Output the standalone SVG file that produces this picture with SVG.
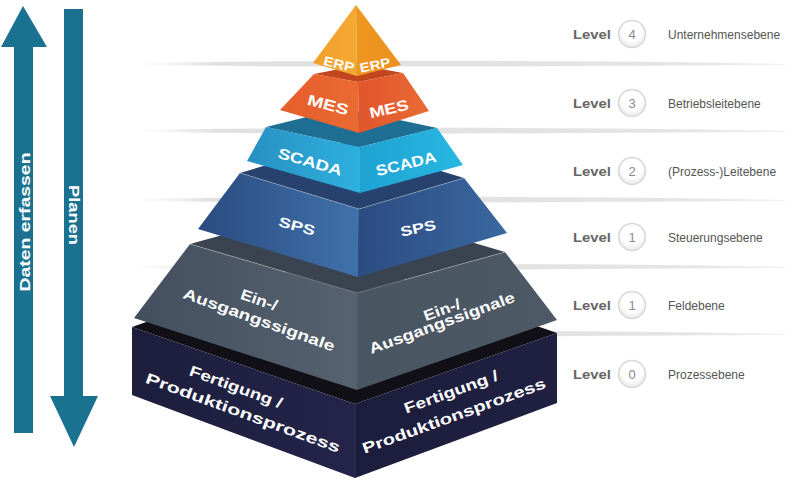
<svg xmlns="http://www.w3.org/2000/svg" width="800" height="481" viewBox="0 0 800 481">
<defs>
<style>
.lbl{font-family:"Liberation Sans",Arial,sans-serif;font-weight:bold;fill:#ffffff;text-anchor:middle}
.lv{font-family:"Liberation Sans",Arial,sans-serif;font-weight:bold;font-size:12.5px;fill:#666666}
.num{font-family:"Liberation Sans",Arial,sans-serif;font-size:13px;fill:#8a8a8a;text-anchor:middle}
.desc{font-family:"Liberation Sans",Arial,sans-serif;font-size:12px;fill:#555555}
.ring{fill:url(#ringG);stroke:#d8d8d8;stroke-width:1.5}
.band{fill:url(#bandG)}
.hl{fill:none;stroke:#ffffff;stroke-opacity:0.35;stroke-width:0.8}
.arrow{fill:#1b7290}
.atxt{font-family:"Liberation Sans",Arial,sans-serif;font-weight:bold;font-size:15px;fill:#ffffff;text-anchor:middle}
</style>
<linearGradient id="bandG" x1="0" y1="0" x2="1" y2="0">
<stop offset="0" stop-color="#e6e6e6" stop-opacity="0"/>
<stop offset="0.12" stop-color="#e0e0e0"/>
<stop offset="0.85" stop-color="#e4e4e4"/>
<stop offset="1" stop-color="#f2f2f2"/>
</linearGradient>
<radialGradient id="ringG" cx="0.5" cy="0.4" r="0.6">
<stop offset="0.6" stop-color="#ffffff"/>
<stop offset="1" stop-color="#e8e8e8"/>
</radialGradient>
<linearGradient id="erpL" x1="0" y1="0" x2="1" y2="0"><stop offset="0" stop-color="#f0a02c"/><stop offset="1" stop-color="#f5a935"/></linearGradient>
<linearGradient id="erpR" x1="0" y1="0" x2="1" y2="0"><stop offset="0" stop-color="#ee971f"/><stop offset="1" stop-color="#ec9020"/></linearGradient>
<linearGradient id="mesL" x1="0" y1="0" x2="1" y2="0"><stop offset="0" stop-color="#e65d2b"/><stop offset="1" stop-color="#ea6a33"/></linearGradient>
<linearGradient id="mesR" x1="0" y1="0" x2="1" y2="0"><stop offset="0" stop-color="#e1552a"/><stop offset="1" stop-color="#e96b36"/></linearGradient>
<linearGradient id="scL" x1="0" y1="0" x2="1" y2="0"><stop offset="0" stop-color="#2890c2"/><stop offset="1" stop-color="#2db0de"/></linearGradient>
<linearGradient id="scR" x1="0" y1="0" x2="1" y2="0"><stop offset="0" stop-color="#1ea3d3"/><stop offset="1" stop-color="#28b7e2"/></linearGradient>
<linearGradient id="spL" x1="0" y1="0" x2="1" y2="0"><stop offset="0" stop-color="#2a4b80"/><stop offset="1" stop-color="#4072aa"/></linearGradient>
<linearGradient id="spR" x1="0" y1="0" x2="1" y2="0"><stop offset="0" stop-color="#2b4c82"/><stop offset="1" stop-color="#3a68a0"/></linearGradient>
<linearGradient id="grL" x1="0" y1="0" x2="1" y2="0"><stop offset="0" stop-color="#434f5e"/><stop offset="1" stop-color="#56626f"/></linearGradient>
<linearGradient id="grR" x1="0" y1="0" x2="1" y2="0"><stop offset="0" stop-color="#4a5562"/><stop offset="1" stop-color="#4e5966"/></linearGradient>
<linearGradient id="nvL" x1="0" y1="0" x2="1" y2="0"><stop offset="0" stop-color="#1d1d3c"/><stop offset="1" stop-color="#24244a"/></linearGradient>
<linearGradient id="nvR" x1="0" y1="0" x2="1" y2="0"><stop offset="0" stop-color="#1c1c3c"/><stop offset="1" stop-color="#202042"/></linearGradient>
</defs>
<rect width="800" height="481" fill="#ffffff"/>

<g id="bands">
<path class="band" d="M140,63 C330,60 600,60 785,64 L785,65 C600,66 330,68 140,65 Z"/>
<path class="band" d="M138,130 C330,127 600,127 785,131 L785,132 C600,133 330,135 138,132 Z"/>
<path class="band" d="M136,199 C330,196 600,196 785,200 L785,201 C600,202 330,204 136,201 Z"/>
<path class="band" d="M134,266 C330,263 600,263 785,267 L785,268 C600,269 330,271 134,268 Z"/>
<path class="band" d="M132,333 C330,330 600,330 785,334 L785,335 C600,336 330,338 132,335 Z"/>
</g>

<g id="arrows">
<path class="arrow" d="M23,6 L47,47 L33,47 L33,433 L14,433 L14,47 L1,47 Z"/>
<path class="arrow" d="M64,9 L83,9 L83,396 L98,396 L74,447 L50,396 L64,396 Z"/>
<text class="atxt" transform="translate(24,222) rotate(-90)" y="5.5" textLength="139" lengthAdjust="spacingAndGlyphs">Daten erfassen</text>
<text class="atxt" transform="translate(74,215) rotate(90)" y="5.5" textLength="60" lengthAdjust="spacingAndGlyphs">Planen</text>
</g>

<g id="layer-fertigung">
<polygon points="132,327 355,404 557,333 334,256" fill="#101016"/>
<polygon points="132,327 355,404 355,478 132,395" fill="url(#nvL)"/>
<polygon points="355,404 557,333 557,403 355,478" fill="url(#nvR)"/>
<line x1="355" y1="404" x2="355" y2="478" stroke="#3a3a60" stroke-width="0.8"/>
<text class="lbl" transform="translate(236,387) rotate(20)" y="5" font-size="15" textLength="98" lengthAdjust="spacingAndGlyphs">Fertigung /</text>
<text class="lbl" transform="translate(243,413) rotate(20)" y="5" font-size="15" textLength="206" lengthAdjust="spacingAndGlyphs">Produktionsprozess</text>
<text class="lbl" transform="translate(451,392) rotate(-20)" y="5" font-size="15" textLength="99" lengthAdjust="spacingAndGlyphs">Fertigung /</text>
<text class="lbl" transform="translate(454,416) rotate(-20)" y="5" font-size="15" textLength="194" lengthAdjust="spacingAndGlyphs">Produktionsprozess</text>
</g>

<g id="layer-signale">
<polygon points="190,244 357,293 505,252 338,203" fill="#3a4450"/>
<polygon points="190,244 357,293 357,390 134,318" fill="url(#grL)"/>
<polygon points="357,293 505,252 557,320 357,390" fill="url(#grR)"/>
<polyline class="hl" points="190,244 357,293 505,252"/>
<text class="lbl" transform="translate(259,300) rotate(19)" y="5" font-size="15" textLength="38" lengthAdjust="spacingAndGlyphs">Ein-/</text>
<text class="lbl" transform="translate(259,320) rotate(19.6)" y="5" font-size="15" textLength="160" lengthAdjust="spacingAndGlyphs">Ausgangssignale</text>
<text class="lbl" transform="translate(442,310) rotate(-20)" y="5" font-size="15" textLength="38" lengthAdjust="spacingAndGlyphs">Ein-/</text>
<text class="lbl" transform="translate(442,323) rotate(-20)" y="5" font-size="15" textLength="154" lengthAdjust="spacingAndGlyphs">Ausgangssignale</text>
</g>

<g id="layer-sps">
<polygon points="240,173 359,209 464,178 345,142" fill="#27426e"/>
<polygon points="240,173 359,209 358,277 198,229" fill="url(#spL)"/>
<polygon points="359,209 464,178 507,233 358,277" fill="url(#spR)"/>
<polyline class="hl" points="240,173 359,209 464,178"/>
<text class="lbl" transform="translate(297,226) rotate(15)" y="5" font-size="14" textLength="37" lengthAdjust="spacingAndGlyphs">SPS</text>
<text class="lbl" transform="translate(418,228) rotate(-12)" y="5" font-size="14" textLength="36" lengthAdjust="spacingAndGlyphs">SPS</text>
</g>

<g id="layer-scada">
<polygon points="266,127 360,147 437,128 343,108" fill="#1f6f94"/>
<polygon points="266,127 360,147 360,193 247,161" fill="url(#scL)"/>
<polygon points="360,147 437,128 463,165 360,193" fill="url(#scR)"/>
<text class="lbl" transform="translate(310,162) rotate(16)" y="5" font-size="15" textLength="66" lengthAdjust="spacingAndGlyphs">SCADA</text>
<text class="lbl" transform="translate(406,164) rotate(-14)" y="5" font-size="15" textLength="62" lengthAdjust="spacingAndGlyphs">SCADA</text>
</g>

<g id="layer-mes">
<polygon points="314,74 358,82 403,73 360,65" fill="#c2471f"/>
<polygon points="314,74 358,82 359,133 280,110" fill="url(#mesL)"/>
<polygon points="358,82 403,73 429,111 359,133" fill="url(#mesR)"/>
<text class="lbl" transform="translate(328,105) rotate(15)" y="5" font-size="15" textLength="42" lengthAdjust="spacingAndGlyphs">MES</text>
<text class="lbl" transform="translate(389,109) rotate(-13)" y="5" font-size="15" textLength="40" lengthAdjust="spacingAndGlyphs">MES</text>
</g>

<g id="layer-erp">
<polygon points="356,5 357,76 313,63" fill="url(#erpL)"/>
<polygon points="356,5 401,65 357,76" fill="url(#erpR)"/>
<text class="lbl" transform="translate(339,64) rotate(14)" y="4.6" font-size="13" textLength="31" lengthAdjust="spacingAndGlyphs">ERP</text>
<text class="lbl" transform="translate(375,65) rotate(-12)" y="4.6" font-size="13" textLength="31" lengthAdjust="spacingAndGlyphs">ERP</text>
</g>

<g id="levels">
<g id="level-4">
<text class="lv" x="573" y="38.5" textLength="38" lengthAdjust="spacingAndGlyphs">Level</text>
<circle class="ring" cx="632" cy="34" r="13.5"/>
<text class="num" x="632" y="38.5">4</text>
<text class="desc" x="668" y="38.5">Unternehmensebene</text>
</g>
<g id="level-3">
<text class="lv" x="573" y="107.5" textLength="38" lengthAdjust="spacingAndGlyphs">Level</text>
<circle class="ring" cx="632" cy="103" r="13.5"/>
<text class="num" x="632" y="107.5">3</text>
<text class="desc" x="668" y="107.5">Betriebsleitebene</text>
</g>
<g id="level-2">
<text class="lv" x="573" y="175.5" textLength="38" lengthAdjust="spacingAndGlyphs">Level</text>
<circle class="ring" cx="632" cy="171" r="13.5"/>
<text class="num" x="632" y="175.5">2</text>
<text class="desc" x="668" y="175.5">(Prozess-)Leitebene</text>
</g>
<g id="level-1a">
<text class="lv" x="573" y="241.5" textLength="38" lengthAdjust="spacingAndGlyphs">Level</text>
<circle class="ring" cx="632" cy="237" r="13.5"/>
<text class="num" x="632" y="241.5">1</text>
<text class="desc" x="668" y="241.5">Steuerungsebene</text>
</g>
<g id="level-1b">
<text class="lv" x="573" y="309.5" textLength="38" lengthAdjust="spacingAndGlyphs">Level</text>
<circle class="ring" cx="632" cy="305" r="13.5"/>
<text class="num" x="632" y="309.5">1</text>
<text class="desc" x="668" y="309.5">Feldebene</text>
</g>
<g id="level-0">
<text class="lv" x="573" y="378.5" textLength="38" lengthAdjust="spacingAndGlyphs">Level</text>
<circle class="ring" cx="632" cy="374" r="13.5"/>
<text class="num" x="632" y="378.5">0</text>
<text class="desc" x="668" y="378.5">Prozessebene</text>
</g>
</g>
</svg>
